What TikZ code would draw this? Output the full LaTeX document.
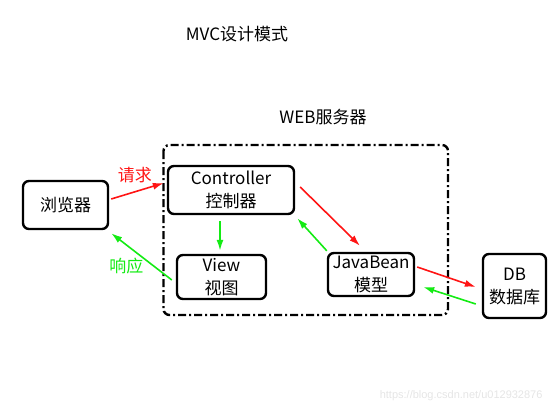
\documentclass[tikz,border=0pt]{standalone}
\usepackage{fontspec}
\setmainfont{Noto Sans CJK SC}
\newfontfamily\markfont{Liberation Sans}
\usetikzlibrary{positioning,arrows.meta}
\definecolor{reqred}{RGB}{255,20,20}
\definecolor{resgreen}{RGB}{20,235,20}
\tikzset{
  box/.style={draw, line width=2.4pt, rounded corners=6pt, align=center, inner sep=0pt},
  req/.style={->, reqred, line width=1.6pt},
  res/.style={->, resgreen, line width=1.6pt}
}
\begin{document}
\begin{tikzpicture}[>={Latex[length=11pt,width=7pt]}, x=1pt, y=-1pt, font=\fontsize{17}{23}\selectfont]
    \useasboundingbox (0,0) rectangle (554,415);
    % titles
    \node (title) at (237,34) {MVC设计模式};
    \node (server) at (323,117) {WEB服务器};
    \draw[line width=2.4pt, rounded corners=6pt, dash pattern=on 8pt off 3pt on 2pt off 3pt] (163.5,145) rectangle (448,315);
    % boxes
    \node[box, minimum width=85, minimum height=48] (browser) at (65.5,205) {浏览器};
    \node[box, minimum width=126, minimum height=48] (ctrl) at (231,190) {Controller\\控制器};
    \node[box, minimum width=89, minimum height=44] (view) at (221.5,277) {View\\视图};
    \node[box, minimum width=86, minimum height=43] (bean) at (371,274.5) {JavaBean\\模型};
    \node[box, minimum width=63, minimum height=64] (db) at (514.5,286) {DB\\数据库};
    % request / response
    \draw[req] ([shift={(2,-6)}]browser.east) -- ([shift={(-3,-7)}]ctrl.west) node[pos=0.45, above=5pt, text=reqred]{请求};
    \draw[res] ([shift={(-4,3)}]view.west) -- ([shift={(2,3)}]browser.south east) node[pos=0.3, left=6pt, text=resgreen]{响应};
    \draw[res] ([shift={(-11,6)}]ctrl.south) -- ([shift={(-1.5,-3)}]view.north);
    \draw[req] ([shift={(5,-3)}]ctrl.east) -- ([shift={(-11,-6)}]bean.north);
    \draw[res] ([shift={(0,-1)}]bean.north west) -- ([shift={(2,3)}]ctrl.south east);
    \draw[req] ([shift={(2,-7.5)}]bean.east) -- ([shift={(-6,1)}]db.west);
    \draw[res] ([shift={(-6,18)}]db.west) -- ([shift={(8,12.5)}]bean.east);
    \node[text=black!10, font=\markfont\fontsize{11}{13}\selectfont, anchor=east] (mark) at (546,396) {https://blog.csdn.net/u012932876};
\end{tikzpicture}
\end{document}
